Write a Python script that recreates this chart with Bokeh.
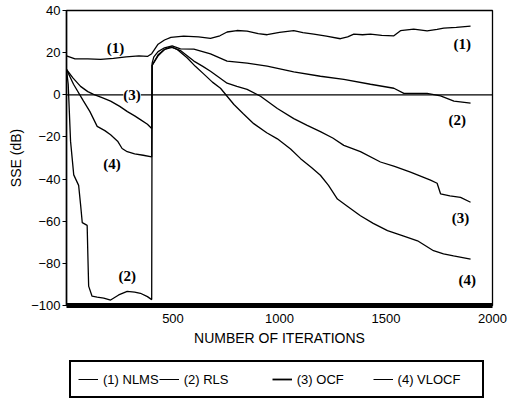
from bokeh.plotting import figure
from bokeh.layouts import column
from bokeh.models import Span, Label, Legend, LegendItem, FixedTicker, Range1d
from bokeh.embed import file_html
from bokeh.resources import INLINE

# ---- data ----
nlms_x = [0, 40, 100, 160, 220, 280, 340, 380, 400, 430, 460, 490, 550, 620, 676, 720, 754, 800, 848, 900,
          942, 1000, 1067, 1110, 1161, 1220, 1286, 1320, 1349, 1390, 1427, 1480, 1537, 1568, 1630, 1693,
          1740, 1771, 1830, 1897]
nlms_y = [18.5, 17, 17, 16.8, 17.3, 18, 18.5, 18.2, 19.5, 24, 26, 27.2, 27.8, 27.5, 26.8, 28, 29.8, 30.5, 30.2, 29,
          28.5, 29.6, 30.4, 29.5, 28.8, 27.8, 26.6, 27.5, 28.8, 28.5, 28.8, 28.2, 28, 30.4, 31.2, 30.3,
          31, 31.6, 32, 32.6]

rls_x = [0, 8, 19, 34, 57, 66, 74, 97, 100, 104, 120, 144, 175, 207, 245, 285, 320, 347, 380, 400,
         402, 410, 430, 460, 496, 535, 598, 676, 754, 848, 942, 1067, 1192, 1302, 1427, 1537, 1584, 1693,
         1756, 1819, 1897]
rls_y = [12, 5, -22, -38, -43, -52, -60.7, -62, -75, -90.8, -95.6, -96, -96.5, -97.4, -95, -93.3, -93.7, -94.2, -95.8, -97.2,
         15, 18, 20.5, 22.3, 23.2, 21.8, 21.7, 19.4, 16, 15, 13.6, 10.9, 8.8, 7.3, 5, 3.1, 0.7, 0.7,
         -0.5, -3, -4]

ocf_x = [0, 30, 66, 100, 127, 170, 207, 250, 286, 320, 347, 380, 400, 402, 430, 460, 496, 535, 598, 640,
         676, 720, 754, 800, 848, 911, 990, 1067, 1130, 1192, 1250, 1302, 1380, 1474, 1540, 1615, 1709,
         1740, 1756, 1800, 1850, 1897]
ocf_y = [12, 8, 4, 1.5, 0.2, -1.5, -3, -5.5, -8, -10, -11.8, -14, -16, 14, 19, 21.5, 22.5, 21, 16, 13.5,
         11.2, 8, 5.5, 4, 2.6, -0.7, -6.5, -11.3, -14.5, -17.5, -20.5, -24, -27, -31.9, -34, -36.7, -40.5,
         -42, -47, -48, -48.7, -51]

vlocf_x = [0, 33, 80, 110, 144, 180, 207, 240, 261, 285, 320, 360, 400, 402, 430, 460, 490, 520, 566, 605,
           645, 685, 723, 786, 830, 879, 940, 990, 1052, 1099, 1150, 1192, 1230, 1272, 1320, 1380, 1440,
           1507, 1580, 1648, 1723, 1770, 1817, 1897]
vlocf_y = [12, 5, -3, -8, -15, -17, -19, -22, -25.5, -27, -28, -28.7, -29.5, 14, 18.5, 21.5, 22.8, 21.5, 17.6, 13.5,
           9.8, 6, 3.1, -4.6, -9, -13.7, -18, -20.9, -25.7, -30.3, -34.5, -38.2, -43, -49.5, -53, -57.4, -61,
           -64.5, -67, -69.3, -74, -75.5, -76.5, -78]

x_ticks = [500, 1000, 1500, 2000]
y_ticks = [-100, -80, -60, -40, -20, 0, 20, 40]

curve_labels = ["(1)", "(1)", "(2)", "(4)", "(2)", "(3)", "(4)"]
curve_label_x = [230, 1858, 1834, 214, 285, 1850, 1881]
curve_label_y = [22.4, 24.3, -11.8, -32.7, -86, -58.3, -87.8]

legend_labels = ["(1) NLMS", "(2) RLS", "(3) OCF", "(4) VLOCF"]

SANS = "Liberation Sans"
SERIF = "Liberation Serif"

p = figure(width=510, height=353, output_backend="svg", toolbar_location=None,
           x_range=Range1d(0, 2000), y_range=Range1d(-100, 40),
           min_border_left=66, min_border_right=18, min_border_top=10, min_border_bottom=48)

p.background_fill_color = "white"
p.border_fill_color = "white"
p.outline_line_color = "black"
p.outline_line_width = 1.3
p.xgrid.visible = False
p.ygrid.visible = False

r1 = p.line(nlms_x, nlms_y, line_color="black", line_width=1.3)
r2 = p.line(rls_x, rls_y, line_color="black", line_width=1.3)
r3 = p.line(ocf_x, ocf_y, line_color="black", line_width=1.3)
r4 = p.line(vlocf_x, vlocf_y, line_color="black", line_width=1.3)

p.add_layout(Span(location=0, dimension="width", line_color="black", line_width=1.3))

for t, x, y in zip(curve_labels, curve_label_x, curve_label_y):
    p.add_layout(Label(x=x, y=y, text=t, text_align="center", text_baseline="middle",
                       text_font=SERIF, text_font_size="15px", text_font_style="bold",
                       text_color="black"))
p.add_layout(Label(x=308, y=0, text="(3)", text_align="center", text_baseline="middle",
                   text_font=SERIF, text_font_size="15px", text_font_style="bold", text_color="black",
                   background_fill_color="white"))

xa = p.xaxis[0]
xa.ticker = FixedTicker(ticks=x_ticks)
xa.major_tick_in = 0
xa.major_tick_out = 0
xa.minor_tick_in = 0
xa.minor_tick_out = 0
xa.axis_line_width = 5
xa.major_label_standoff = 8
xa.major_label_text_font = SANS
xa.major_label_text_font_size = "13px"
xa.major_label_text_color = "black"
xa.axis_label = "NUMBER OF ITERATIONS"
xa.axis_label_text_font = SANS
xa.axis_label_text_font_size = "14px"
xa.axis_label_text_font_style = "normal"
xa.axis_label_standoff = 4
xa.axis_label_text_color = "black"

ya = p.yaxis[0]
ya.ticker = FixedTicker(ticks=y_ticks)
ya.major_tick_in = 0
ya.major_tick_out = 4
ya.minor_tick_in = 0
ya.minor_tick_out = 0
ya.axis_line_width = 1.5
ya.major_label_standoff = 2
ya.major_label_text_font = SANS
ya.major_label_text_font_size = "13px"
ya.major_label_text_color = "black"
ya.axis_label = "SSE (dB)"
ya.axis_label_text_font = SANS
ya.axis_label_text_font_size = "14px"
ya.axis_label_text_font_style = "normal"
ya.axis_label_standoff = 4
ya.axis_label_text_color = "black"

# ---- legend strip (separate small figure, key glyphs only, drawn off-view) ----
q = figure(width=510, height=50, output_backend="svg", toolbar_location=None,
           x_range=Range1d(0, 1), y_range=Range1d(0, 1),
           x_axis_location=None, y_axis_location=None,
           min_border_left=0, min_border_right=0, min_border_top=0, min_border_bottom=0)
q.xgrid.visible = False
q.ygrid.visible = False
q.outline_line_color = None
q.background_fill_color = "white"
q.border_fill_color = "white"

keys = [q.line([-5, -4], [-5, -5], line_color="black", line_width=w) for w in [1.0, 1.0, 1.8, 1.0]]

pads = [0, 12, 8, 4]
items = [LegendItem(label=lab + " " * n, renderers=[r])
         for lab, n, r in zip(legend_labels, pads, keys)]
legend = Legend(items=items, orientation="horizontal", location=(3, 5),
                border_line_color="black", border_line_width=2, border_line_alpha=1.0,
                background_fill_color="white", background_fill_alpha=1,
                padding=7, spacing=0, glyph_width=20, label_standoff=5,
                label_text_font=SANS, label_text_font_size="13px", label_text_color="black",
                margin=0)
q.add_layout(legend, "center")

open("out.html", "w").write(file_html(column(p, q, spacing=0), INLINE))
